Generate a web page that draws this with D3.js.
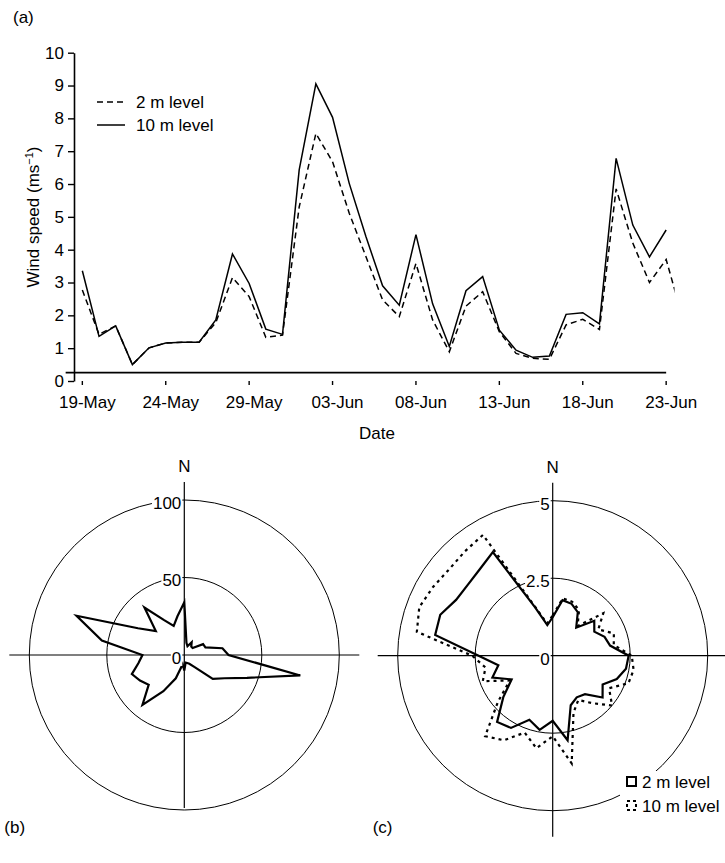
<!DOCTYPE html>
<html>
<head>
<meta charset="utf-8">
<script src="https://cdn.jsdelivr.net/npm/d3@7"></script>
<style>
body { margin: 0; background: #fff; }
text { font-family: "Liberation Sans", Arial, sans-serif; fill: #000; }
</style>
</head>
<body>
<div id="chart"></div>
<script>
// ---- data: (a) daily wind speed ----
var dates = ["19-May","20-May","21-May","22-May","23-May","24-May","25-May","26-May","27-May","28-May",
  "29-May","30-May","31-May","01-Jun","02-Jun","03-Jun","04-Jun","05-Jun","06-Jun","07-Jun",
  "08-Jun","09-Jun","10-Jun","11-Jun","12-Jun","13-Jun","14-Jun","15-Jun","16-Jun","17-Jun",
  "18-Jun","19-Jun","20-Jun","21-Jun","22-Jun","23-Jun"];
var tickDates = ["19-May","24-May","29-May","03-Jun","08-Jun","13-Jun","18-Jun","23-Jun"];
// 2 m series runs one day past the axis end (clipped at the edge)
var wind2m = [2.77, 1.42, 1.68, 0.5, 1.01, 1.16, 1.18, 1.18, 1.78, 3.15, 2.57, 1.33, 1.4, 5.3, 7.54, 6.68, 5.11, 3.79,
  2.47, 1.96, 3.58, 1.86, 0.89, 2.28, 2.72, 1.5, 0.84, 0.69, 0.66, 1.71, 1.88, 1.57, 5.85, 4.2, 3.0, 3.7, 1.9];
var wind10m = [3.36, 1.36, 1.68, 0.5, 1.01, 1.16, 1.18, 1.18, 1.86, 3.87, 2.97, 1.58, 1.42, 6.43, 9.05, 8.03, 6.02, 4.4,
  2.9, 2.31, 4.46, 2.35, 1.05, 2.75, 3.18, 1.55, 0.94, 0.72, 0.76, 2.03, 2.08, 1.74, 6.78, 4.75, 3.78, 4.6];
var yTicks = [0, 1, 2, 3, 4, 5, 6, 7, 8, 9, 10];

// ---- data: (b) and (c) direction roses, 10 degree sectors ----
var directions = [0,10,20,30,40,50,60,70,80,90,100,110,120,130,140,150,160,170,
  180,190,200,210,220,230,240,250,260,270,280,290,300,310,320,330,340,350];
var roseB = [34, 8, 6, 9.5, 7, 7, 14, 14.5, 25, 28.5, 76, 43, 30, 24, 10, 6.5, 5.5, 5,
  10, 6, 16, 27, 42, 30, 33, 36, 30, 27, 54, 74, 34.5, 24, 40, 26, 20, 25.4];
var roseC2m = [1.24, 1.82, 1.78, 1.62, 1.18, 1.75, 1.55, 1.78, 1.88, 2.45, 2.4, 2.2, 1.86, 2.1, 1.62, 1.55, 1.7, 2.77,
  2.1, 2.43, 2.2, 2.69, 2.79, 2.08, 1.53, 2.07, 1.78, 2.39, 3.85, 3.86, 3.6, 3.57, 3.65, 3.86, 1.66, 1.0];
var roseC10m = [1.3, 1.88, 1.85, 1.7, 1.25, 2.13, 1.7, 2.1, 2.0, 2.55, 2.65, 2.6, 2.1, 2.5, 2.0, 1.65, 1.96, 3.53,
  2.6, 3.03, 2.64, 3.15, 3.39, 2.3, 1.6, 2.4, 2.2, 2.6, 4.45, 4.58, 4.45, 4.35, 4.4, 4.5, 1.7, 1.05];
var rosebTicks = [0, 50, 100];
var rosecTicks = [0, 2.5, 5];

var font = "'Liberation Sans', Arial, sans-serif";
var fs = 17;

var svg = d3.select("div#chart").append("svg")
    .attr("width", 725)
    .attr("height", 863);

// ================= (a) =================
var x = d3.scaleBand().domain(dates).range([74, 674.5]);
var y = d3.scaleLinear().domain([0, 10]).range([381, 52.7]);
var half = x.bandwidth() / 2;

svg.append("clipPath").attr("id", "plotclip")
  .append("rect").attr("x", 74).attr("y", 0).attr("width", 674.5 - 74).attr("height", 400);

var xAxis = svg.append("g")
    .attr("transform", "translate(0,381)")
    .call(d3.axisBottom(x).tickValues(tickDates).tickSize(4).tickSizeOuter(0).offset(-half));
xAxis.attr("font-family", font).attr("font-size", fs);
xAxis.select(".domain").attr("stroke-width", 1.6);
xAxis.selectAll(".tick line").attr("stroke-width", 1.4);
xAxis.selectAll(".tick text").attr("x", 5).attr("y", 27).attr("dy", null);

var yAxis = svg.append("g")
    .attr("transform", "translate(74,0)")
    .call(d3.axisLeft(y).tickValues(yTicks).tickSize(6).tickSizeOuter(0));
yAxis.attr("font-family", font).attr("font-size", fs);
yAxis.select(".domain").attr("stroke-width", 1.6);
yAxis.selectAll(".tick line").attr("stroke-width", 1.4);
yAxis.selectAll(".tick text").attr("x", -10);

var line = d3.line()
    .x(function(d, i) { return x(dates[0]) + half + i * x.step(); })
    .y(function(d) { return y(d); });

svg.append("path").datum(wind2m)
    .attr("clip-path", "url(#plotclip)")
    .attr("d", line).attr("fill", "none").attr("stroke", "#000")
    .attr("stroke-width", 1.5).attr("stroke-dasharray", "6,4");
svg.append("path").datum(wind10m)
    .attr("clip-path", "url(#plotclip)")
    .attr("d", line).attr("fill", "none").attr("stroke", "#000")
    .attr("stroke-width", 1.5);

// legend (a)
var legA = svg.append("g").attr("font-size", fs);
legA.append("line").attr("x1", 97).attr("x2", 125).attr("y1", 102).attr("y2", 102)
    .attr("stroke", "#000").attr("stroke-width", 1.5).attr("stroke-dasharray", "6,4");
legA.append("text").attr("x", 136).attr("y", 108).text("2 m level");
legA.append("line").attr("x1", 97).attr("x2", 125).attr("y1", 125).attr("y2", 125)
    .attr("stroke", "#000").attr("stroke-width", 1.5);
legA.append("text").attr("x", 136).attr("y", 131).text("10 m level");

// titles (a)
var yt = svg.append("text")
    .attr("transform", "translate(39,217) rotate(-90)")
    .attr("text-anchor", "middle").attr("font-size", fs);
yt.append("tspan").text("Wind speed (ms");
yt.append("tspan").attr("dy", -6).attr("font-size", 11).text("\u22121");
yt.append("tspan").attr("dy", 6).text(")");

svg.append("text").attr("x", 377).attr("y", 439)
    .attr("text-anchor", "middle").attr("font-size", fs).text("Date");
svg.append("text").attr("x", 13).attr("y", 23).attr("font-size", fs).text("(a)");

// ================= (b) and (c) roses =================
function drawRose(cx, cy, ticks, series, panel, axisBottom) {
  var r = d3.scaleLinear().domain([0, ticks[ticks.length - 1]]).range([0, 155]);
  var g = svg.append("g").attr("transform", "translate(" + cx + "," + cy + ")");

  g.selectAll("circle.ring")
      .data(ticks.slice(1))
      .enter().append("circle")
      .attr("class", "ring")
      .attr("r", function(d) { return r(d); })
      .attr("fill", "none").attr("stroke", "#000").attr("stroke-width", 1);

  g.append("line").attr("x1", -175).attr("x2", 175).attr("y1", 0).attr("y2", 0)
      .attr("stroke", "#000").attr("stroke-width", 1.2);
  g.append("line").attr("x1", 0).attr("x2", 0).attr("y1", -173).attr("y2", axisBottom)
      .attr("stroke", "#000").attr("stroke-width", 1.2);

  var radial = d3.lineRadial()
      .angle(function(d, i) { return directions[i] * Math.PI / 180; })
      .radius(function(d) { return r(d); })
      .curve(d3.curveLinearClosed);

  series.forEach(function(s) {
    g.append("path").datum(s.values)
        .attr("d", radial)
        .attr("fill", "none").attr("stroke", "#000")
        .attr("stroke-width", 2.2)
        .attr("stroke-linejoin", "miter")
        .attr("stroke-dasharray", s.dash);
  });

  // value labels with white backing
  ticks.forEach(function(t) {
    var lab = g.append("text")
        .attr("x", -3).attr("y", -r(t) + 3)
        .attr("dy", "0.35em")
        .attr("text-anchor", "end")
        .attr("font-size", fs)
        .text(t);
    var bb = lab.node().getBBox();
    g.insert("rect", function() { return lab.node(); })
        .attr("x", bb.x - 1).attr("y", bb.y + 2)
        .attr("width", bb.width + 2).attr("height", bb.height - 4)
        .attr("fill", "#fff");
  });

  g.append("text").attr("x", 0).attr("y", -183)
      .attr("text-anchor", "middle").attr("font-size", fs).text("N");
  svg.append("text").attr("x", cx - 180).attr("y", 833)
      .attr("font-size", fs).text(panel);
  return g;
}

drawRose(184.3, 655, rosebTicks, [{values: roseB, dash: null}], "(b)", 153);
drawRose(552.7, 655.7, rosecTicks, [
  {values: roseC10m, dash: "3,4"},
  {values: roseC2m, dash: null}
], "(c)", 181);

// legend (c)
var legC = svg.append("g").attr("font-size", fs);
legC.append("rect").attr("x", 620).attr("y", 771).attr("width", 105).attr("height", 46).attr("fill", "#fff");
legC.append("rect").attr("x", 627).attr("y", 777).attr("width", 9).attr("height", 9)
    .attr("fill", "#fff").attr("stroke", "#000").attr("stroke-width", 2);
legC.append("text").attr("x", 642).attr("y", 788).text("2 m level");
legC.append("rect").attr("x", 627).attr("y", 801).attr("width", 9).attr("height", 9)
    .attr("fill", "#fff").attr("stroke", "#000").attr("stroke-width", 2).attr("stroke-dasharray", "3,3");
legC.append("text").attr("x", 642).attr("y", 812).text("10 m level");
</script>
</body>
</html>
